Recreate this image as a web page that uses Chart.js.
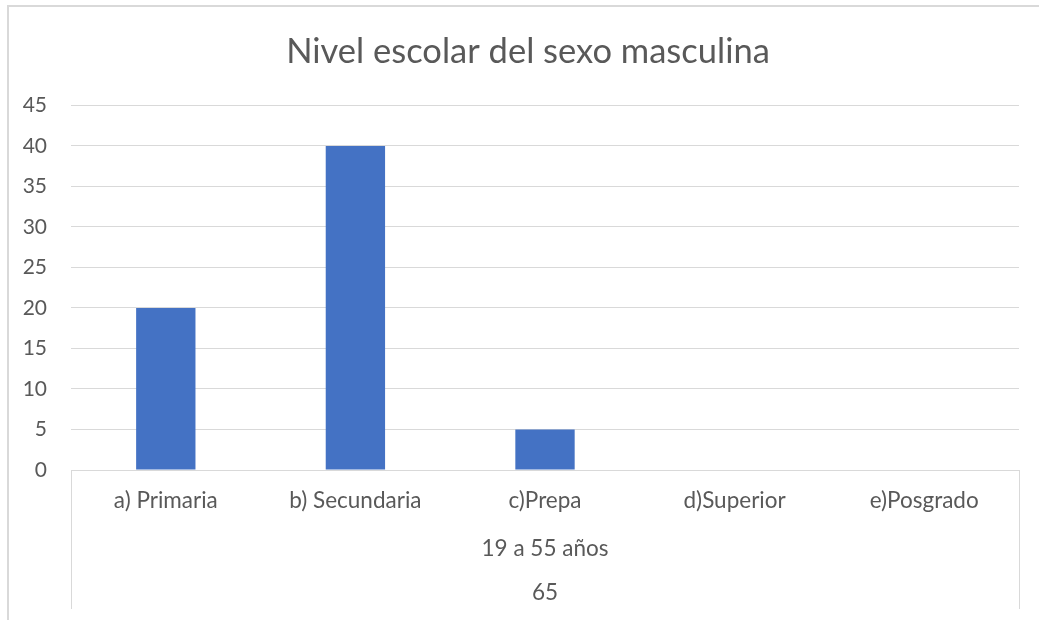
<!DOCTYPE html>
<html>
<head>
<meta charset="utf-8">
<title>Nivel escolar del sexo masculina</title>
<script src="https://cdn.jsdelivr.net/npm/chart.js@4/dist/chart.umd.min.js"></script>
<style>
    body { margin: 0; background: #ffffff; }
    .frame {
        position: absolute;
        left: 7px;
        top: 5px;
        width: 1100px;
        height: 700px;
        border-left: 2px solid #d9d9d9;
        border-top: 2px solid #d9d9d9;
    }
    .chart { position: absolute; left: 0; top: 0; width: 1039px; height: 620px; }
</style>
</head>
<body>
<div class="frame"></div>
<div class="chart"><canvas id="chart" width="1039" height="620"></canvas></div>
<script>
// data
const categories = ['a) Primaria', 'b) Secundaria', 'c)Prepa', 'd)Superior', 'e)Posgrado'];
const values = [20, 40, 5, 0, 0];
const groupLabels = ['19 a 55 años'];
const outerLabels = ['65'];

const textColor = '#595959';
const lineColor = '#d9d9d9';
const fontFamily = 'Lato, "Open Sans", sans-serif';

// draws the separators of the multi-level category axis
const groupLines = {
    id: 'groupLines',
    afterLayout(chart) {
        // excel centres the title on the whole frame, which runs past the right edge
        if (chart.titleBlock) chart.titleBlock.left += 37;
    },
    afterDraw(chart) {
        const { ctx, chartArea } = chart;
        ctx.save();
        ctx.strokeStyle = lineColor;
        ctx.lineWidth = 1;
        ctx.beginPath();
        [chartArea.left, chartArea.right].forEach(x => {
            const px = Math.round(x) + 0.5;
            ctx.moveTo(px, chartArea.bottom);
            ctx.lineTo(px, chart.height - 11);
        });
        ctx.stroke();
        ctx.restore();
    }
};

const ctx = document.getElementById('chart').getContext('2d');
new Chart(ctx, {
    type: 'bar',
    data: {
        labels: categories,
        datasets: [{
            label: 'Nivel escolar',
            data: values,
            backgroundColor: '#4472c4',
            borderWidth: 0,
            categoryPercentage: 1,
            barPercentage: 0.313
        }]
    },
    options: {
        responsive: false,
        animation: false,
        layout: { padding: { left: 0, right: 20, top: 0, bottom: 0 } },
        plugins: {
            legend: { display: false },
            tooltip: { enabled: false },
            title: {
                display: true,
                text: 'Nivel escolar del sexo masculina',
                color: textColor,
                font: { family: fontFamily, size: 34.5, weight: 'normal' },
                padding: { top: 31, bottom: 33 }
            }
        },
        scales: {
            y: {
                min: 0,
                max: 45,
                ticks: {
                    stepSize: 5,
                    color: textColor,
                    font: { family: fontFamily, size: 21 },
                    padding: 24
                },
                grid: { color: lineColor, drawTicks: false },
                border: { display: false },
                afterFit: scale => { scale.width = 71; }
            },
            x: {
                weight: 0,
                ticks: {
                    color: textColor,
                    font: { family: fontFamily, size: 22.5 },
                    padding: 17,
                    maxRotation: 0,
                    autoSkip: false
                },
                grid: { display: false, drawTicks: false },
                border: { display: true, color: lineColor },
                afterFit: scale => { scale.height = 56; }
            },
            x2: {
                type: 'category',
                position: 'bottom',
                weight: 1,
                labels: groupLabels,
                offset: true,
                ticks: {
                    color: textColor,
                    font: { family: fontFamily, size: 22.5 },
                    padding: 9
                },
                grid: { display: false, drawTicks: false },
                border: { display: false },
                afterFit: scale => { scale.height = 44; }
            },
            x3: {
                type: 'category',
                position: 'bottom',
                weight: 2,
                labels: outerLabels,
                offset: true,
                ticks: {
                    color: textColor,
                    font: { family: fontFamily, size: 22.5 },
                    padding: 9
                },
                grid: { display: false, drawTicks: false },
                border: { display: false },
                afterFit: scale => { scale.height = 50; }
            }
        }
    },
    plugins: [groupLines]
});
</script>
</body>
</html>
